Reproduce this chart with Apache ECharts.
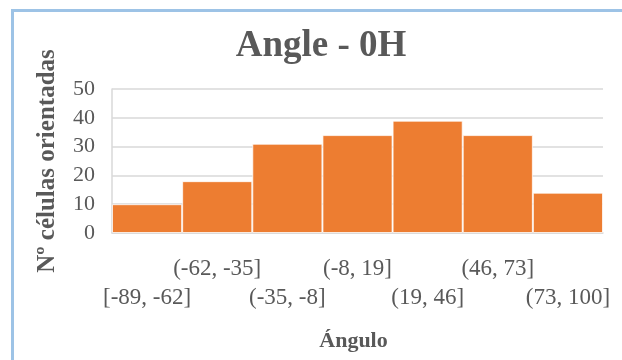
<!DOCTYPE html>
<html>
<head>
<meta charset="utf-8">
<title>Angle - 0H</title>
<script src="https://cdn.jsdelivr.net/npm/echarts@6/dist/echarts.min.js"></script>
<style>
  html, body { margin: 0; padding: 0; background: #ffffff; overflow: hidden; }
  #frame {
    position: absolute; left: 11px; top: 9px; width: 700px; height: 420px;
    border: 3px solid #9DC3E6; box-sizing: border-box;
  }
  #chart { position: absolute; left: 0; top: 0; width: 622px; height: 360px; }
</style>
</head>
<body>
<div id="frame"></div>
<div id="chart"></div>
<script>
// Histogram bins of cell orientation angle (degrees) and their counts
const binLabels = ['[-89, -62]', '(-62, -35]', '(-35, -8]', '(-8, 19]', '(19, 46]', '(46, 73]', '(73, 100]'];
const cellCounts = [10, 18, 31, 34, 39, 34, 14];
const yTicks = { min: 0, max: 50, step: 10 };

const textGrey = '#595959';
const serif = '"Liberation Serif", "Times New Roman", serif';

const chart = echarts.init(document.getElementById('chart'), null, { renderer: 'canvas' });

chart.setOption({
  animation: false,
  backgroundColor: 'transparent',
  title: {
    text: 'Angle - 0H',
    left: 316,
    top: 23,
    textAlign: 'center',
    textStyle: { fontFamily: serif, fontSize: 37, fontWeight: 'bold', color: textGrey }
  },
  grid: { left: 112, right: 19, top: 89, bottom: 127, containLabel: false },
  xAxis: {
    type: 'category',
    data: binLabels,
    name: 'Ángulo',
    nameLocation: 'middle',
    nameGap: 97,
    nameTextStyle: { fontFamily: serif, fontSize: 22, fontWeight: 'bold', color: textGrey, padding: [0, 8, 0, 0] },
    axisLine: { show: true, lineStyle: { color: '#D9D9D9', width: 1.5 } },
    axisTick: { show: false },
    axisLabel: {
      interval: 0,
      margin: 21,
      fontFamily: serif,
      fontSize: 23,
      lineHeight: 29,
      color: textGrey,
      // staggered labels: even bins on the lower row, odd bins on the upper row
      formatter: (v, i) => (i % 2 === 0 ? '\n' + v : v + '\n')
    }
  },
  yAxis: {
    type: 'value',
    min: yTicks.min,
    max: yTicks.max,
    interval: yTicks.step,
    name: 'Nº células orientadas',
    nameLocation: 'middle',
    nameRotate: 90,
    nameGap: 52,
    nameTextStyle: { fontFamily: serif, fontSize: 25, fontWeight: 'bold', color: textGrey },
    axisLine: { show: true, lineStyle: { color: '#D9D9D9', width: 1.5 } },
    axisTick: { show: false },
    axisLabel: { margin: 17, fontFamily: serif, fontSize: 22, color: textGrey },
    splitLine: { show: true, lineStyle: { color: '#D9D9D9', width: 1.5 } }
  },
  series: [{
    type: 'bar',
    data: cellCounts,
    barCategoryGap: '0%',
    itemStyle: { color: '#ED7D31', borderColor: 'rgba(255,255,255,0.75)', borderWidth: 1 }
  }]
});
</script>
</body>
</html>
